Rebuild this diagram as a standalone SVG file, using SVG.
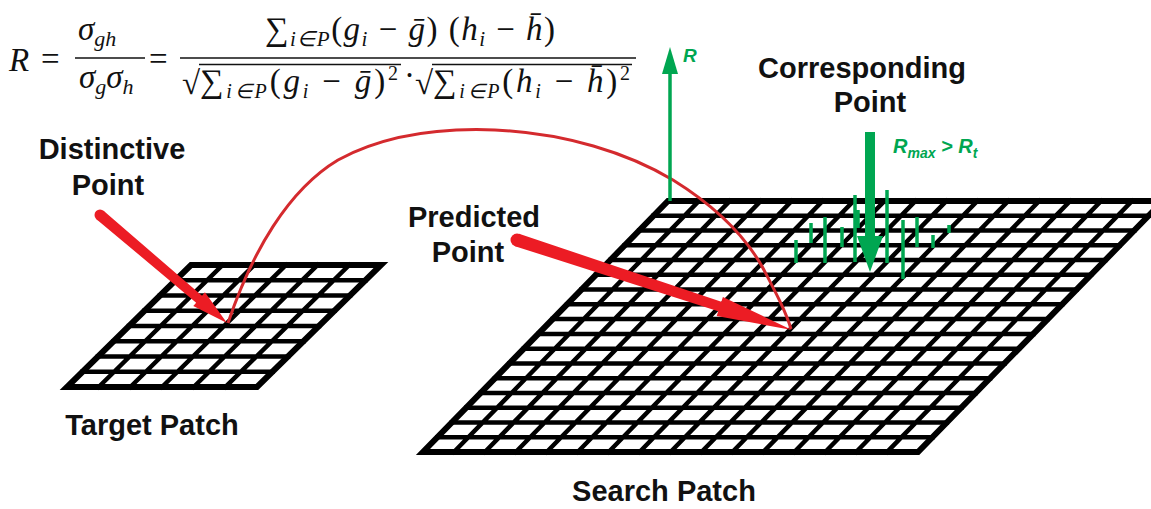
<svg xmlns="http://www.w3.org/2000/svg" width="1151" height="509" viewBox="0 0 1151 509">
<style>
.lbl{font-family:"Liberation Sans",Arial,sans-serif;font-weight:bold;font-size:29px;fill:#111;text-anchor:middle}
.m{font-family:"Liberation Serif","Times New Roman",serif;font-size:33px;fill:#111}
.mi{font-style:italic}
.grid{fill:none;stroke:#000;stroke-width:4.5;stroke-linecap:square}
.edge{fill:none;stroke:#000;stroke-width:6;stroke-linejoin:miter}
.red{fill:#ec1c24}
.curve{fill:none;stroke:#d42a2e;stroke-width:3}
.gr{stroke:#00a651;stroke-width:3.5;fill:none}
.grf{fill:#00a651}
.gt{font-family:"Liberation Sans",Arial,sans-serif;font-weight:bold;font-style:italic;fill:#00a651}
.bar{stroke:#111;stroke-width:1.6}
</style>
<rect width="1151" height="509" fill="#fff"/>

<g id="formula">
<text class="m mi" x="9" y="71" font-size="35">R</text>
<text class="m" x="41" y="70">=</text>
<text class="m mi" x="78" y="40">σ<tspan font-size="22" dy="6">gh</tspan></text>
<line class="bar" x1="75" y1="58" x2="145" y2="58"/>
<text class="m mi" x="79" y="88">σ<tspan font-size="22" dy="6">g</tspan><tspan dy="-6">σ</tspan><tspan font-size="22" dy="6">h</tspan></text>
<text class="m" x="149" y="70">=</text>
<line class="bar" x1="180" y1="58" x2="636" y2="58"/>
<text class="m" x="265" y="40" textLength="290" lengthAdjust="spacing">∑<tspan class="mi" font-size="21" dy="6">i∈P</tspan><tspan dy="-6">(</tspan><tspan class="mi">g</tspan><tspan class="mi" font-size="21" dy="6">i</tspan><tspan dy="-6"> − </tspan><tspan class="mi">ḡ</tspan>) (<tspan class="mi">h</tspan><tspan class="mi" font-size="21" dy="6">i</tspan><tspan dy="-6"> − </tspan><tspan class="mi">h̄</tspan>)</text>
<text class="m" x="182" y="94" font-size="34">√</text>
<line class="bar" x1="199" y1="64.5" x2="401" y2="64.5"/>
<text class="m" x="200" y="92" font-size="31" textLength="198" lengthAdjust="spacing">∑<tspan class="mi" font-size="20" dy="6">i∈P</tspan><tspan dy="-6">(</tspan><tspan class="mi">g</tspan><tspan class="mi" font-size="20" dy="6">i</tspan><tspan dy="-6"> − </tspan><tspan class="mi">ḡ</tspan>)<tspan font-size="20" dy="-12">2</tspan></text>
<text class="m" x="404" y="86">·</text>
<text class="m" x="415" y="94" font-size="34">√</text>
<line class="bar" x1="432" y1="64.5" x2="632" y2="64.5"/>
<text class="m" x="433" y="92" font-size="31" textLength="197" lengthAdjust="spacing">∑<tspan class="mi" font-size="20" dy="6">i∈P</tspan><tspan dy="-6">(</tspan><tspan class="mi">h</tspan><tspan class="mi" font-size="20" dy="6">i</tspan><tspan dy="-6"> − </tspan><tspan class="mi">h̄</tspan>)<tspan font-size="20" dy="-12">2</tspan></text>
</g>

<g id="target-patch">
<path class="grid" d="M175.5 280.25H365.5M160 295.5H350M144.5 310.75H334.5M129 326H319M113.5 341.25H303.5M98 356.5H288M82.5 371.75H272.5
M222.67 265L98.67 387M254.33 265L130.33 387M286 265L162 387M317.67 265L193.67 387M349.33 265L225.33 387"/>
<path class="edge" d="M191 265H381L257 387H67Z"/>
<text class="lbl" x="152" y="435">Target Patch</text>
</g>

<g id="search-patch">
<path class="grid" d="M653.59 215.76H1148.59M639.18 230.53H1134.18M624.76 245.29H1119.76M610.35 260.06H1105.35M595.94 274.82H1090.94M581.53 289.59H1076.53M567.12 304.35H1062.12M552.71 319.12H1047.71M538.29 333.88H1033.29M523.88 348.65H1018.88M509.47 363.41H1004.47M495.06 378.18H990.06M480.65 392.94H975.65M466.24 407.71H961.24M451.82 422.47H946.82M437.41 437.24H932.41
M698.94 201L453.94 452M729.88 201L484.88 452M760.81 201L515.81 452M791.75 201L546.75 452M822.69 201L577.69 452M853.63 201L608.63 452M884.56 201L639.56 452M915.5 201L670.5 452M946.44 201L701.44 452M977.38 201L732.38 452M1008.31 201L763.31 452M1039.25 201L794.25 452M1070.19 201L825.19 452M1101.13 201L856.13 452M1132.06 201L887.06 452"/>
<path class="edge" d="M668 201H1163L918 452H423Z"/>
<text class="lbl" x="664" y="501">Search Patch</text>
</g>

<g id="distinctive-point">
<text class="lbl" x="112" y="159">Distinctive</text>
<text class="lbl" x="108" y="195">Point</text>
</g>

<g id="predicted-point">
<text class="lbl" x="474" y="227">Predicted</text>
<text class="lbl" x="468" y="262">Point</text>
</g>

<g id="corresponding-point">
<text class="lbl" x="862" y="78">Corresponding</text>
<text class="lbl" x="870" y="112">Point</text>
</g>

<g id="correlation-peaks">
<path class="gr" d="M796 240V263M811 223V243M825 217V263M842 227V247M855 195V262M858 210V228M887 190V263M903 220V279M917 217V247M933 235V248M949 225V233"/>
<text class="gt" x="893" y="153" font-size="20">R<tspan font-size="14" dy="5">max</tspan><tspan dy="-5"> &gt; R</tspan><tspan font-size="14" dy="5">t</tspan></text>
</g>

<g id="connectors">
<path class="curve" d="M228 323C252 252 288 190 338 160C388 133 445 128 495 130C565 133 628 153 673 180C718 208 748 240 764 270C777 295 786 312 791 329"/>
<circle class="red" cx="100" cy="215" r="5.5"/>
<polygon class="red" points="103.56,210.81 202.02,295.77 204.93,292.34 227,323 193.27,306.06 196.18,302.63 96.44,219.19"/>
<circle class="red" cx="517" cy="240" r="6.5"/>
<polygon class="red" points="519.02,233.83 721.36,301.65 722.91,296.9 792,330 716.69,315.9 718.25,311.15 514.98,246.18"/>
<line class="gr" x1="670" y1="201" x2="670" y2="70" stroke-width="4"/>
<polygon class="grf" points="662,74 678,74 670,47"/>
<text class="gt" x="683" y="62" font-size="19">R</text>
<rect class="grf" x="865" y="132" width="10" height="106"/>
<polygon class="grf" points="857,236 883,236 870,272"/>
</g>
</svg>
